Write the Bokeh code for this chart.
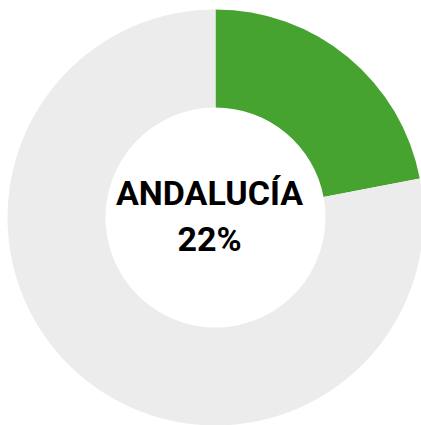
import math
from bokeh.plotting import figure
from bokeh.models import Range1d
from bokeh.core.properties import value
from bokeh.embed import file_html
from bokeh.resources import INLINE

categories = ["Andalucía", "Resto"]
shares = [22, 78]
label_region = "ANDALUCÍA"
label_value = "22%"
colors = ["#46a32f", "#ececec"]

W, H = 421, 425
p = figure(width=W, height=H, output_backend="svg", toolbar_location=None,
           x_range=Range1d(0, W), y_range=Range1d(0, H), min_border=0)
p.axis.visible = False
p.grid.visible = False
p.outline_line_color = None
p.background_fill_color = "white"
p.border_fill_color = "white"

cx, cy = 215, H - 217
total = sum(shares)
start = math.pi / 2
starts, ends = [], []
for s in shares:
    a = s / total * 2 * math.pi
    starts.append(start - a)
    ends.append(start)
    start -= a

p.annular_wedge(x=cx, y=cy, inner_radius=110, outer_radius=208,
                start_angle=starts, end_angle=ends, color=colors,
                line_color=None)

font = value("Roboto")
p.text(x=[209], y=[H - 192], text=[label_region], text_font=font,
       text_font_style="bold", text_font_size="34px", text_align="center",
       text_baseline="alphabetic", text_color="black")
p.text(x=[209], y=[H - 238], text=[label_value], text_font=font,
       text_font_style="bold", text_font_size="34px", text_align="center",
       text_baseline="alphabetic", text_color="black")

open("out.html", "w").write(file_html(p, INLINE))
